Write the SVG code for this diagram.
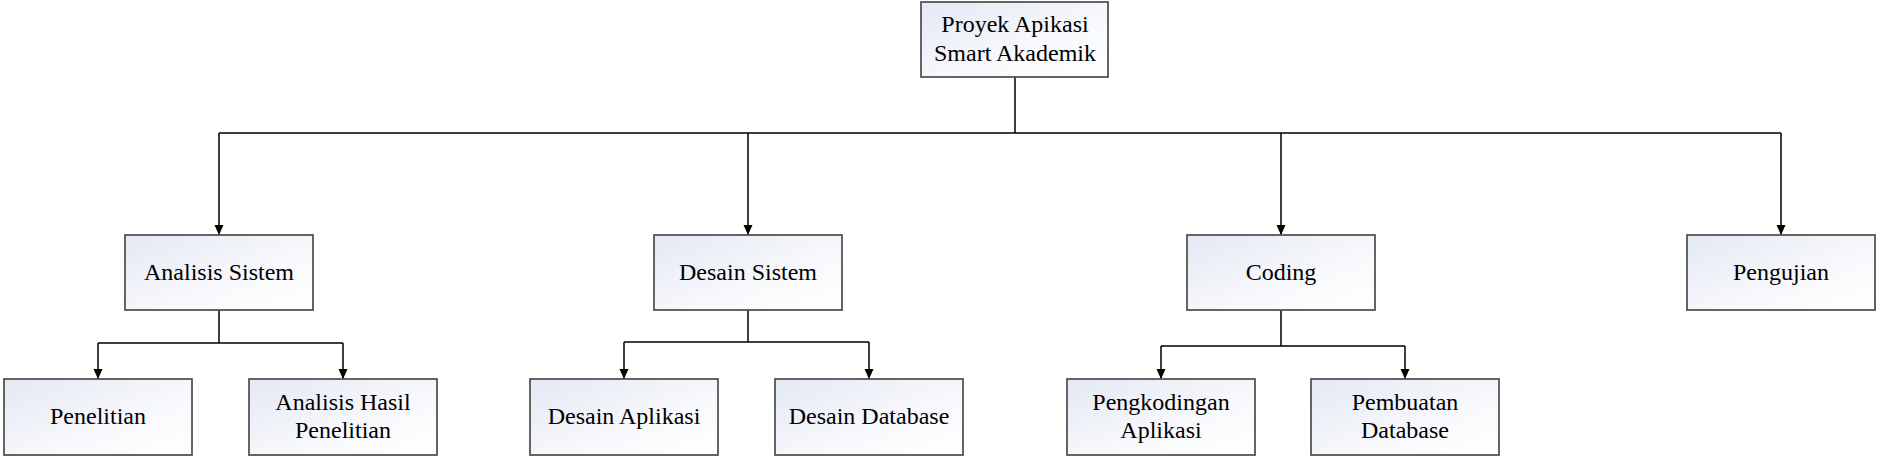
<svg xmlns="http://www.w3.org/2000/svg" width="1880" height="457" viewBox="0 0 1880 457">
<defs>
<linearGradient id="g" x1="0" y1="0" x2="1" y2="1">
<stop offset="0" stop-color="#e3e8f3"/>
<stop offset="0.6" stop-color="#f8f9fc"/>
<stop offset="1" stop-color="#ffffff"/>
</linearGradient>
<marker id="arr" markerUnits="userSpaceOnUse" markerWidth="10" markerHeight="10" refX="10" refY="4.5" orient="auto">
<path d="M0,0 L10,4.5 L0,9 z" fill="#000"/>
</marker>
<style>
.box{fill:url(#g);stroke:#555;stroke-width:1.8}
.t{font-family:"Liberation Serif","Times New Roman",serif;font-size:24px;fill:#000;text-anchor:middle}
.c{fill:none;stroke:#000;stroke-width:1.5}
.a{fill:none;stroke:#000;stroke-width:1.5;marker-end:url(#arr)}
</style>
</defs>
<rect width="1880" height="457" fill="#fff"/>
<g id="connectors">
<path class="c" d="M1015,77 V133 M219,133 H1781"/>
<path class="a" d="M219,133 V235"/>
<path class="a" d="M748,133 V235"/>
<path class="a" d="M1281,133 V235"/>
<path class="a" d="M1781,133 V235"/>
<path class="c" d="M219,310 V343 M98,343 H343"/>
<path class="a" d="M98,343 V379"/>
<path class="a" d="M343,343 V379"/>
<path class="c" d="M748,310 V342 M624,342 H869"/>
<path class="a" d="M624,342 V379"/>
<path class="a" d="M869,342 V379"/>
<path class="c" d="M1281,310 V346 M1161,346 H1405"/>
<path class="a" d="M1161,346 V379"/>
<path class="a" d="M1405,346 V379"/>
</g>
<g id="n-root"><rect class="box" x="921" y="2" width="187" height="75"/><text class="t" x="1015" y="32">Proyek Apikasi</text><text class="t" x="1015" y="61">Smart Akademik</text></g>
<g id="n-analisis"><rect class="box" x="125" y="235" width="188" height="75"/><text class="t" x="219" y="280">Analisis Sistem</text></g>
<g id="n-desain"><rect class="box" x="654" y="235" width="188" height="75"/><text class="t" x="748" y="280">Desain Sistem</text></g>
<g id="n-coding"><rect class="box" x="1187" y="235" width="188" height="75"/><text class="t" x="1281" y="280">Coding</text></g>
<g id="n-pengujian"><rect class="box" x="1687" y="235" width="188" height="75"/><text class="t" x="1781" y="280">Pengujian</text></g>
<g id="n-penelitian"><rect class="box" x="4" y="379" width="188" height="76"/><text class="t" x="98" y="424">Penelitian</text></g>
<g id="n-analisis-hasil"><rect class="box" x="249" y="379" width="188" height="76"/><text class="t" x="343" y="410">Analisis Hasil</text><text class="t" x="343" y="438">Penelitian</text></g>
<g id="n-desain-aplikasi"><rect class="box" x="530" y="379" width="188" height="76"/><text class="t" x="624" y="424">Desain Aplikasi</text></g>
<g id="n-desain-database"><rect class="box" x="775" y="379" width="188" height="76"/><text class="t" x="869" y="424">Desain Database</text></g>
<g id="n-pengkodingan"><rect class="box" x="1067" y="379" width="188" height="76"/><text class="t" x="1161" y="410">Pengkodingan</text><text class="t" x="1161" y="438">Aplikasi</text></g>
<g id="n-pembuatan"><rect class="box" x="1311" y="379" width="188" height="76"/><text class="t" x="1405" y="410">Pembuatan</text><text class="t" x="1405" y="438">Database</text></g>
</svg>
